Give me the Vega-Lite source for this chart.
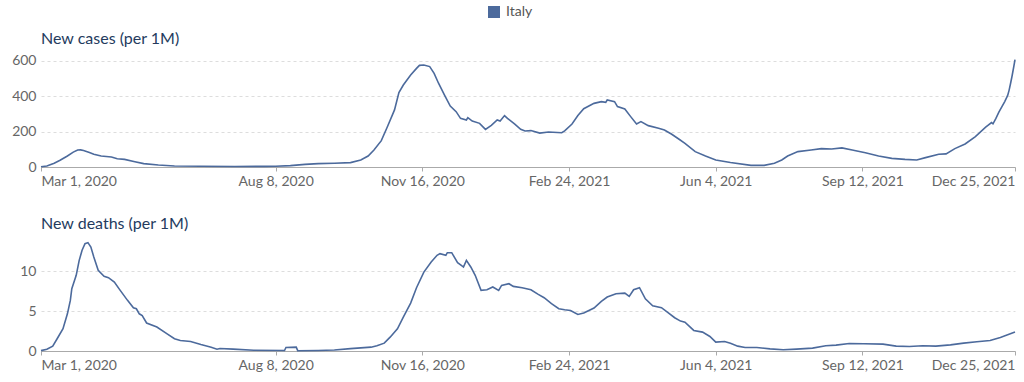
{
  "$schema": "https://vega.github.io/schema/vega-lite/v6.json",
  "background": "white",
  "padding": {"left": 11, "top": 5, "right": 10, "bottom": 0},
  "autosize": {"type": "pad"},
  "config": {
    "font": "Lato",
    "view": {"stroke": null},
    "concat": {"spacing": 28},
    "title": {"anchor": "start", "frame": "group", "fontSize": 16, "fontWeight": "normal", "color": "#243b5e", "font": "Lato", "offset": 7},
    "axisX": {"domainColor": "#aaaaaa", "tickColor": "#aaaaaa", "tickSize": 4, "labelColor": "#666666", "labelFontSize": 14, "labelFont": "Lato", "grid": false, "labelPadding": 3, "title": null, "labelFlush": true, "labelOverlap": false},
    "axisY": {"domain": false, "ticks": false, "gridColor": "#dddddd", "gridDash": [3, 3], "labelColor": "#666666", "labelFontSize": 14, "labelFont": "Lato", "labelPadding": 5, "title": null, "minExtent": 29, "maxExtent": 29},
    "legend": {"labelFont": "Lato", "labelFontSize": 14, "labelColor": "#555555", "symbolType": "square", "symbolSize": 144, "symbolFillColor": "#4C6A9C", "symbolStrokeWidth": 0, "labelOffset": 5, "padding": 0}
  },
  "datasets": {
    "cases": [
      {"date": "2020-03-01", "value": 1},
      {"date": "2020-03-05", "value": 6},
      {"date": "2020-03-10", "value": 21},
      {"date": "2020-03-14", "value": 38},
      {"date": "2020-03-19", "value": 62},
      {"date": "2020-03-23", "value": 84},
      {"date": "2020-03-26", "value": 96},
      {"date": "2020-03-28", "value": 97},
      {"date": "2020-03-30", "value": 93},
      {"date": "2020-04-03", "value": 82},
      {"date": "2020-04-06", "value": 72},
      {"date": "2020-04-11", "value": 62},
      {"date": "2020-04-18", "value": 57},
      {"date": "2020-04-22", "value": 47},
      {"date": "2020-04-27", "value": 43},
      {"date": "2020-05-04", "value": 30},
      {"date": "2020-05-10", "value": 19},
      {"date": "2020-05-20", "value": 11},
      {"date": "2020-05-31", "value": 6},
      {"date": "2020-06-18", "value": 4},
      {"date": "2020-07-11", "value": 3},
      {"date": "2020-08-01", "value": 3.5},
      {"date": "2020-08-08", "value": 4},
      {"date": "2020-08-18", "value": 8},
      {"date": "2020-08-28", "value": 15},
      {"date": "2020-09-06", "value": 19},
      {"date": "2020-09-17", "value": 21},
      {"date": "2020-09-28", "value": 25},
      {"date": "2020-10-05", "value": 40},
      {"date": "2020-10-10", "value": 62},
      {"date": "2020-10-14", "value": 96},
      {"date": "2020-10-19", "value": 149},
      {"date": "2020-10-23", "value": 225},
      {"date": "2020-10-28", "value": 323},
      {"date": "2020-10-31", "value": 421},
      {"date": "2020-11-03", "value": 464},
      {"date": "2020-11-08", "value": 521},
      {"date": "2020-11-12", "value": 558},
      {"date": "2020-11-14", "value": 575},
      {"date": "2020-11-17", "value": 577},
      {"date": "2020-11-21", "value": 568},
      {"date": "2020-11-24", "value": 530},
      {"date": "2020-11-27", "value": 474},
      {"date": "2020-12-01", "value": 408},
      {"date": "2020-12-05", "value": 345},
      {"date": "2020-12-09", "value": 313},
      {"date": "2020-12-12", "value": 275},
      {"date": "2020-12-16", "value": 266},
      {"date": "2020-12-17", "value": 279},
      {"date": "2020-12-20", "value": 260},
      {"date": "2020-12-25", "value": 247},
      {"date": "2020-12-29", "value": 213},
      {"date": "2021-01-02", "value": 236},
      {"date": "2021-01-06", "value": 266},
      {"date": "2021-01-08", "value": 260},
      {"date": "2021-01-11", "value": 291},
      {"date": "2021-01-13", "value": 275},
      {"date": "2021-01-18", "value": 243},
      {"date": "2021-01-22", "value": 213},
      {"date": "2021-01-25", "value": 204},
      {"date": "2021-01-29", "value": 206},
      {"date": "2021-02-04", "value": 192},
      {"date": "2021-02-10", "value": 198},
      {"date": "2021-02-19", "value": 194},
      {"date": "2021-02-21", "value": 204},
      {"date": "2021-02-26", "value": 243},
      {"date": "2021-03-02", "value": 291},
      {"date": "2021-03-06", "value": 330},
      {"date": "2021-03-13", "value": 360},
      {"date": "2021-03-18", "value": 370},
      {"date": "2021-03-21", "value": 366},
      {"date": "2021-03-22", "value": 379},
      {"date": "2021-03-27", "value": 370},
      {"date": "2021-03-29", "value": 342},
      {"date": "2021-04-03", "value": 328},
      {"date": "2021-04-07", "value": 285},
      {"date": "2021-04-11", "value": 243},
      {"date": "2021-04-14", "value": 257},
      {"date": "2021-04-19", "value": 234},
      {"date": "2021-04-26", "value": 219},
      {"date": "2021-04-30", "value": 209},
      {"date": "2021-05-05", "value": 185},
      {"date": "2021-05-10", "value": 157},
      {"date": "2021-05-14", "value": 134},
      {"date": "2021-05-21", "value": 87},
      {"date": "2021-05-28", "value": 62},
      {"date": "2021-06-04", "value": 40},
      {"date": "2021-06-14", "value": 25},
      {"date": "2021-06-28", "value": 9.4},
      {"date": "2021-07-07", "value": 9.4},
      {"date": "2021-07-14", "value": 21},
      {"date": "2021-07-19", "value": 40},
      {"date": "2021-07-23", "value": 62},
      {"date": "2021-07-30", "value": 87},
      {"date": "2021-08-08", "value": 96},
      {"date": "2021-08-15", "value": 104},
      {"date": "2021-08-22", "value": 102},
      {"date": "2021-08-29", "value": 108},
      {"date": "2021-09-05", "value": 96},
      {"date": "2021-09-14", "value": 81},
      {"date": "2021-09-23", "value": 62},
      {"date": "2021-10-02", "value": 49},
      {"date": "2021-10-11", "value": 43},
      {"date": "2021-10-19", "value": 40},
      {"date": "2021-10-25", "value": 53},
      {"date": "2021-11-03", "value": 72},
      {"date": "2021-11-08", "value": 74},
      {"date": "2021-11-14", "value": 104},
      {"date": "2021-11-21", "value": 130},
      {"date": "2021-11-28", "value": 172},
      {"date": "2021-12-05", "value": 225},
      {"date": "2021-12-09", "value": 251},
      {"date": "2021-12-10", "value": 244},
      {"date": "2021-12-12", "value": 275},
      {"date": "2021-12-14", "value": 310},
      {"date": "2021-12-16", "value": 340},
      {"date": "2021-12-18", "value": 370},
      {"date": "2021-12-20", "value": 405},
      {"date": "2021-12-21", "value": 435},
      {"date": "2021-12-22", "value": 474},
      {"date": "2021-12-23", "value": 515},
      {"date": "2021-12-24", "value": 560},
      {"date": "2021-12-25", "value": 608}
    ],
    "deaths": [
      {"date": "2020-03-01", "value": 0.05},
      {"date": "2020-03-05", "value": 0.23},
      {"date": "2020-03-09", "value": 0.61},
      {"date": "2020-03-12", "value": 1.53},
      {"date": "2020-03-16", "value": 2.78},
      {"date": "2020-03-19", "value": 4.65},
      {"date": "2020-03-21", "value": 6.32},
      {"date": "2020-03-22", "value": 7.79},
      {"date": "2020-03-25", "value": 9.46},
      {"date": "2020-03-27", "value": 11.3},
      {"date": "2020-03-29", "value": 12.59},
      {"date": "2020-03-31", "value": 13.42},
      {"date": "2020-04-02", "value": 13.55},
      {"date": "2020-04-04", "value": 13.0},
      {"date": "2020-04-06", "value": 11.75},
      {"date": "2020-04-09", "value": 10.08},
      {"date": "2020-04-13", "value": 9.33},
      {"date": "2020-04-16", "value": 9.16},
      {"date": "2020-04-20", "value": 8.62},
      {"date": "2020-04-24", "value": 7.58},
      {"date": "2020-04-29", "value": 6.33},
      {"date": "2020-05-03", "value": 5.41},
      {"date": "2020-05-05", "value": 5.28},
      {"date": "2020-05-07", "value": 4.65},
      {"date": "2020-05-09", "value": 4.44},
      {"date": "2020-05-12", "value": 3.5},
      {"date": "2020-05-19", "value": 2.99},
      {"date": "2020-05-26", "value": 2.15},
      {"date": "2020-05-31", "value": 1.53},
      {"date": "2020-06-04", "value": 1.32},
      {"date": "2020-06-11", "value": 1.19},
      {"date": "2020-06-18", "value": 0.81},
      {"date": "2020-06-25", "value": 0.48},
      {"date": "2020-06-29", "value": 0.23},
      {"date": "2020-07-01", "value": 0.31},
      {"date": "2020-07-10", "value": 0.23},
      {"date": "2020-07-24", "value": 0.1},
      {"date": "2020-08-14", "value": 0.06},
      {"date": "2020-08-15", "value": 0.44},
      {"date": "2020-08-22", "value": 0.48},
      {"date": "2020-08-23", "value": 0.04},
      {"date": "2020-09-06", "value": 0.06},
      {"date": "2020-09-17", "value": 0.12},
      {"date": "2020-09-28", "value": 0.3},
      {"date": "2020-10-12", "value": 0.48},
      {"date": "2020-10-16", "value": 0.65},
      {"date": "2020-10-21", "value": 0.98},
      {"date": "2020-10-25", "value": 1.73},
      {"date": "2020-10-30", "value": 2.78},
      {"date": "2020-11-03", "value": 4.24},
      {"date": "2020-11-08", "value": 5.99},
      {"date": "2020-11-12", "value": 7.91},
      {"date": "2020-11-17", "value": 9.87},
      {"date": "2020-11-22", "value": 11.12},
      {"date": "2020-11-26", "value": 11.96},
      {"date": "2020-11-28", "value": 12.17},
      {"date": "2020-12-02", "value": 11.96},
      {"date": "2020-12-03", "value": 12.29},
      {"date": "2020-12-06", "value": 12.29},
      {"date": "2020-12-10", "value": 11.04},
      {"date": "2020-12-13", "value": 10.63},
      {"date": "2020-12-14", "value": 10.5},
      {"date": "2020-12-16", "value": 11.33},
      {"date": "2020-12-19", "value": 10.5},
      {"date": "2020-12-22", "value": 9.46},
      {"date": "2020-12-26", "value": 7.58},
      {"date": "2020-12-30", "value": 7.66},
      {"date": "2021-01-03", "value": 8.0},
      {"date": "2021-01-07", "value": 7.58},
      {"date": "2021-01-09", "value": 8.2},
      {"date": "2021-01-14", "value": 8.41},
      {"date": "2021-01-17", "value": 8.08},
      {"date": "2021-01-23", "value": 7.91},
      {"date": "2021-01-29", "value": 7.66},
      {"date": "2021-02-03", "value": 7.08},
      {"date": "2021-02-07", "value": 6.66},
      {"date": "2021-02-12", "value": 5.91},
      {"date": "2021-02-17", "value": 5.28},
      {"date": "2021-02-21", "value": 5.16},
      {"date": "2021-02-25", "value": 5.07},
      {"date": "2021-03-02", "value": 4.57},
      {"date": "2021-03-06", "value": 4.74},
      {"date": "2021-03-13", "value": 5.37},
      {"date": "2021-03-18", "value": 6.2},
      {"date": "2021-03-22", "value": 6.74},
      {"date": "2021-03-28", "value": 7.16},
      {"date": "2021-04-03", "value": 7.24},
      {"date": "2021-04-06", "value": 6.83},
      {"date": "2021-04-09", "value": 7.66},
      {"date": "2021-04-13", "value": 7.91},
      {"date": "2021-04-17", "value": 6.53},
      {"date": "2021-04-22", "value": 5.66},
      {"date": "2021-04-28", "value": 5.41},
      {"date": "2021-05-02", "value": 4.86},
      {"date": "2021-05-07", "value": 4.16},
      {"date": "2021-05-11", "value": 3.74},
      {"date": "2021-05-14", "value": 3.61},
      {"date": "2021-05-20", "value": 2.57},
      {"date": "2021-05-26", "value": 2.36},
      {"date": "2021-05-31", "value": 1.82},
      {"date": "2021-06-04", "value": 1.11},
      {"date": "2021-06-10", "value": 1.19},
      {"date": "2021-06-14", "value": 0.98},
      {"date": "2021-06-19", "value": 0.61},
      {"date": "2021-06-24", "value": 0.44},
      {"date": "2021-07-02", "value": 0.44},
      {"date": "2021-07-11", "value": 0.27},
      {"date": "2021-07-20", "value": 0.15},
      {"date": "2021-07-29", "value": 0.23},
      {"date": "2021-08-09", "value": 0.36},
      {"date": "2021-08-18", "value": 0.65},
      {"date": "2021-08-25", "value": 0.73},
      {"date": "2021-09-03", "value": 0.94},
      {"date": "2021-09-13", "value": 0.9},
      {"date": "2021-09-26", "value": 0.86},
      {"date": "2021-10-05", "value": 0.61},
      {"date": "2021-10-14", "value": 0.57},
      {"date": "2021-10-23", "value": 0.65},
      {"date": "2021-11-01", "value": 0.61},
      {"date": "2021-11-11", "value": 0.77},
      {"date": "2021-11-20", "value": 0.98},
      {"date": "2021-11-29", "value": 1.15},
      {"date": "2021-12-08", "value": 1.32},
      {"date": "2021-12-15", "value": 1.69},
      {"date": "2021-12-20", "value": 2.03},
      {"date": "2021-12-25", "value": 2.36}
    ]
  },
  "vconcat": [
    {
      "width": 974,
      "height": 108,
      "title": {"text": "New cases (per 1M)"},
      "data": {"name": "cases"},
      "mark": {"type": "line", "strokeWidth": 1.6},
      "encoding": {
        "x": {
          "field": "date", "type": "temporal",
          "scale": {"type": "utc", "domain": [{"year": 2020, "month": 3, "date": 1, "utc": true}, {"year": 2021, "month": 12, "date": 25, "utc": true}]},
          "axis": {"format": "%b %-d, %Y", "values": [
            {"year": 2020, "month": 3, "date": 1, "utc": true},
            {"year": 2020, "month": 8, "date": 8, "utc": true},
            {"year": 2020, "month": 11, "date": 16, "utc": true},
            {"year": 2021, "month": 2, "date": 24, "utc": true},
            {"year": 2021, "month": 6, "date": 4, "utc": true},
            {"year": 2021, "month": 9, "date": 12, "utc": true},
            {"year": 2021, "month": 12, "date": 25, "utc": true}
          ]}
        },
        "y": {"field": "value", "type": "quantitative", "scale": {"domain": [0, 611], "nice": false}, "axis": {"values": [0, 200, 400, 600]}},
        "color": {"datum": "Italy", "type": "nominal", "scale": {"range": ["#4C6A9C"]}, "legend": {"title": null, "orient": "none", "legendX": 446, "legendY": -54}}
      }
    },
    {
      "width": 974,
      "height": 108,
      "title": {"text": "New deaths (per 1M)"},
      "data": {"name": "deaths"},
      "mark": {"type": "line", "strokeWidth": 1.6},
      "encoding": {
        "x": {
          "field": "date", "type": "temporal",
          "scale": {"type": "utc", "domain": [{"year": 2020, "month": 3, "date": 1, "utc": true}, {"year": 2021, "month": 12, "date": 25, "utc": true}]},
          "axis": {"format": "%b %-d, %Y", "values": [
            {"year": 2020, "month": 3, "date": 1, "utc": true},
            {"year": 2020, "month": 8, "date": 8, "utc": true},
            {"year": 2020, "month": 11, "date": 16, "utc": true},
            {"year": 2021, "month": 2, "date": 24, "utc": true},
            {"year": 2021, "month": 6, "date": 4, "utc": true},
            {"year": 2021, "month": 9, "date": 12, "utc": true},
            {"year": 2021, "month": 12, "date": 25, "utc": true}
          ]}
        },
        "y": {"field": "value", "type": "quantitative", "scale": {"domain": [0, 13.5], "nice": false}, "axis": {"values": [0, 5, 10]}},
        "color": {"datum": "Italy", "type": "nominal", "scale": {"range": ["#4C6A9C"]}, "legend": {"title": null, "orient": "none", "legendX": 446, "legendY": -54}}
      }
    }
  ]
}
